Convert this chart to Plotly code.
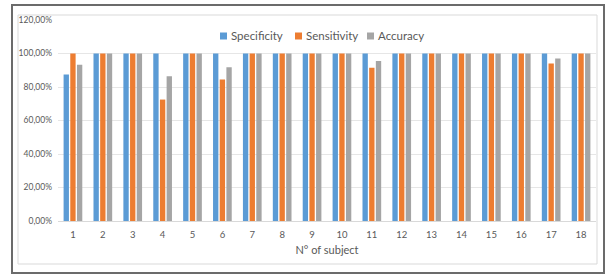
import plotly.graph_objects as go

subjects = [str(i) for i in range(1, 19)]
specificity = [0.875, 1, 1, 1, 1, 1, 1, 1, 1, 1, 1, 1, 1, 1, 1, 1, 1, 1]
sensitivity = [1, 1, 1, 0.725, 1, 0.845, 1, 1, 1, 1, 0.915, 1, 1, 1, 1, 1, 0.94, 1]
accuracy = [0.933, 1, 1, 0.864, 1, 0.918, 1, 1, 1, 1, 0.955, 1, 1, 1, 1, 1, 0.97, 1]
y_ticks = [0, 0.2, 0.4, 0.6, 0.8, 1.0, 1.2]

names = ["Specificity", "Sensitivity", "Accuracy"]
colors = ["#5b9bd5", "#ed7d31", "#a5a5a5"]

fig = go.Figure()
for name, vals, col in zip(names, [specificity, sensitivity, accuracy], colors):
    fig.add_trace(go.Bar(x=subjects, y=vals, name=name, marker_color=col,
                         marker_line_width=0, showlegend=False))

W, H = 606, 274
L, R, T, B = 58, 10, 20, 53
pw, ph = W - L - R, H - T - B

def px(x):
    return (x - L) / pw

def py(y):
    return (H - B - y) / ph

# Legend (Excel-style: small square + label), laid out as a row
legend_sq_x = [220, 295, 367]
legend_cy = 36
shapes = [
    dict(type="rect", xref="paper", yref="paper",
         x0=px(18), x1=px(597), y0=py(264), y1=py(15),
         line=dict(color="#d9d9d9", width=1), layer="below"),
    dict(type="rect", xref="paper", yref="paper",
         x0=px(12), x1=px(604), y0=py(273), y1=py(5),
         line=dict(color="#6b6b6b", width=2)),
]
annotations = []
for name, col, sx in zip(names, colors, legend_sq_x):
    shapes.append(dict(type="rect", xref="paper", yref="paper",
                       x0=px(sx), x1=px(sx + 7), y0=py(legend_cy + 3.5), y1=py(legend_cy - 3.5),
                       fillcolor=col, line=dict(width=0)))
    annotations.append(dict(text=name, xref="paper", yref="paper",
                            x=px(sx + 8.5), y=py(legend_cy), xanchor="left", yanchor="middle",
                            showarrow=False, font=dict(size=11.5, color="#595959")))

fig.update_layout(
    width=W, height=H,
    margin=dict(l=L, r=R, t=T, b=B, autoexpand=False),
    paper_bgcolor="white", plot_bgcolor="white",
    separators=",.",
    barmode="group", bargap=0.33, bargroupgap=0.2,
    font=dict(family="Lato, Open Sans, sans-serif", color="#595959"),
    showlegend=False,
    xaxis=dict(type="category", showgrid=False, showline=True, linecolor="#d9d9d9",
               linewidth=1, ticks="", tickfont=dict(size=9.5, color="#595959"),
               ticklabelstandoff=5,
               title=dict(text="N° of subject", font=dict(size=11, color="#595959"), standoff=6)),
    yaxis=dict(range=[0, 1.2], tickvals=y_ticks, tickformat=".2%", showgrid=True,
               gridcolor="#e6e6e6", gridwidth=1, zeroline=False, ticks="",
               ticklabelstandoff=5,
               tickfont=dict(size=8.5, color="#595959"), showline=False),
    shapes=shapes,
    annotations=annotations,
)

fig.write_html("out.html", config={"displayModeBar": False},
               post_script="document.body.style.margin='0';")
